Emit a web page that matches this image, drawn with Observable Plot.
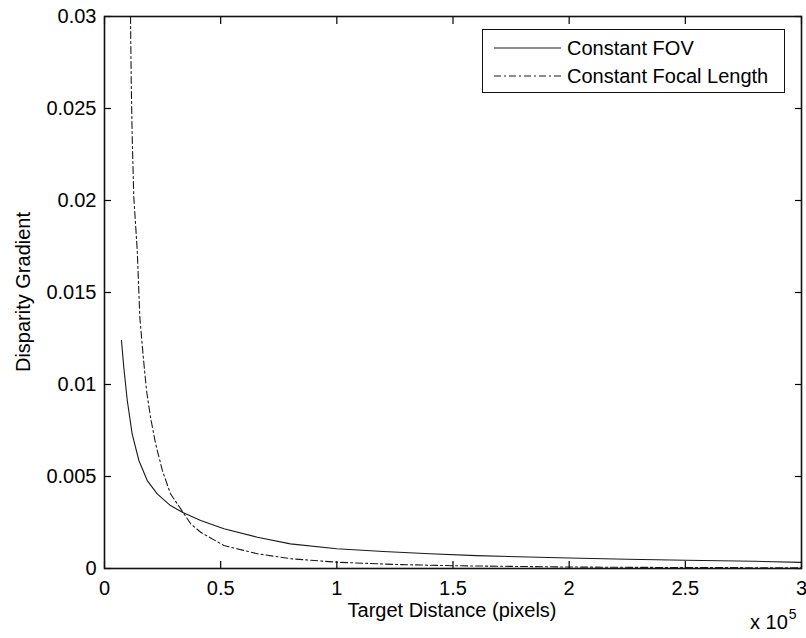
<!DOCTYPE html>
<html>
<head>
<meta charset="utf-8">
<script src="https://cdn.jsdelivr.net/npm/d3@7"></script>
<script src="https://cdn.jsdelivr.net/npm/@observablehq/plot@0.6"></script>
<style>
  html, body { margin: 0; padding: 0; background: #fff; }
  #wrap { position: relative; width: 806px; height: 638px; font-family: "Liberation Sans", Arial, sans-serif; color: #000; }
  #legend { position: absolute; left: 482px; top: 29px; width: 303px; height: 64px; border: 1.4px solid #111; background: #fff; box-sizing: border-box; }
  .row { position: absolute; left: 0; height: 24px; display: flex; align-items: center; white-space: nowrap; }
  .row span { font-size: 20px; color: #000; margin-left: 4px; }
  .lab { position: absolute; font-size: 20px; white-space: nowrap; line-height: 1; }
  #xlab { left: 452px; top: 610px; transform: translate(-50%, -50%); }
  #ylab { left: 23px; top: 292px; transform: translate(-50%, -50%) rotate(-90deg); }
  #exp { left: 750px; top: 612px; }
  #exp sup { font-size: 14px; line-height: 1; vertical-align: top; position: relative; top: -5px; margin-left: 1px; }
</style>
</head>
<body>
<div id="wrap"></div>
<script>
const seriesNames = ["Constant FOV", "Constant Focal Length"];
const xLabel = "Target Distance (pixels)";
const yLabel = "Disparity Gradient";

const xFOV = [7300, 8300, 9800, 11900, 14800, 18400, 22700, 28400, 33500, 41400, 51400, 65800, 80000, 100000, 120000, 140000, 160000, 200000, 225000, 250000, 280000, 300000];
const yFOV = [0.0124, 0.01094, 0.00913, 0.00732, 0.00587, 0.00478, 0.00406, 0.00342, 0.00306, 0.00261, 0.00216, 0.0017, 0.00134, 0.00107, 0.00092, 0.00080, 0.00070, 0.00057, 0.00050, 0.00045, 0.00039, 0.00033];

const xFL = [11200, 11500, 11900, 12600, 14100, 15200, 16700, 18100, 19800, 22000, 24900, 28400, 32800, 37100, 41400, 51400, 65800, 80200, 100300, 125000, 150000, 200000, 250000, 300000];
const yFL = [0.0300, 0.0265, 0.0236, 0.0202, 0.01728, 0.01366, 0.01148, 0.00967, 0.00822, 0.00678, 0.00533, 0.00406, 0.00324, 0.00243, 0.00197, 0.00125, 0.0008, 0.00053, 0.00034, 0.00022, 0.00015, 0.00008, 0.00005, 0.00004];

const xTicks = [0, 50000, 100000, 150000, 200000, 250000, 300000];
const xTickLabels = ["0", "0.5", "1", "1.5", "2", "2.5", "3"];
const yTicks = [0, 0.005, 0.01, 0.015, 0.02, 0.025, 0.03];
const yTickLabels = ["0", "0.005", "0.01", "0.015", "0.02", "0.025", "0.03"];

const fov = xFOV.map((x, i) => ({x, y: yFOV[i]}));
const fl = xFL.map((x, i) => ({x, y: yFL[i]}));

const dashFL = "7,3,2,3";

const chart = Plot.plot({
  width: 806,
  height: 638,
  marginLeft: 104,
  marginRight: 5,
  marginTop: 16,
  marginBottom: 70,
  style: {fontFamily: "'Liberation Sans', Arial, sans-serif", fontSize: "20px", color: "#000", background: "#fff"},
  x: {domain: [0, 300000]},
  y: {domain: [0, 0.03]},
  marks: [
    Plot.line(fov, {x: "x", y: "y", stroke: "#1a1a1a", strokeWidth: 1.1, clip: true}),
    Plot.line(fl, {x: "x", y: "y", stroke: "#1a1a1a", strokeWidth: 1.1, strokeDasharray: dashFL, clip: true}),
    Plot.axisX(xTicks, {anchor: "bottom", tickSize: 0, tickPadding: 12, tickFormat: (d, i) => xTickLabels[i], label: null, fontSize: 20}),
    Plot.axisX(xTicks, {anchor: "bottom", tickSize: -7, text: null, label: null, strokeWidth: 1.2}),
    Plot.axisX(xTicks, {anchor: "top", tickSize: -7, text: null, label: null, strokeWidth: 1.2}),
    Plot.axisY(yTicks, {anchor: "left", tickSize: 0, tickPadding: 8, tickFormat: (d, i) => yTickLabels[i], label: null, fontSize: 20}),
    Plot.axisY(yTicks, {anchor: "left", tickSize: -7, text: null, label: null, strokeWidth: 1.2}),
    Plot.axisY(yTicks, {anchor: "right", tickSize: -7, text: null, label: null, strokeWidth: 1.2}),
    Plot.frame({stroke: "#111", strokeWidth: 1.6})
  ]
});

const wrap = document.getElementById("wrap");
wrap.appendChild(chart);

const legend = document.createElement("div");
legend.id = "legend";
const rows = [
  {name: seriesNames[0], dash: null, top: 6},
  {name: seriesNames[1], dash: dashFL, top: 34}
];
for (const r of rows) {
  const row = document.createElement("div");
  row.className = "row";
  row.style.top = r.top + "px";
  row.innerHTML = `<svg width="80" height="20"><line x1="11" x2="78" y1="10" y2="10" stroke="#1a1a1a" stroke-width="1.1" ${r.dash ? `stroke-dasharray="${r.dash}"` : ""}/></svg><span>${r.name}</span>`;
  legend.appendChild(row);
}
wrap.appendChild(legend);

function addLabel(id, html) {
  const d = document.createElement("div");
  d.id = id;
  d.className = "lab";
  d.innerHTML = html;
  wrap.appendChild(d);
}
addLabel("xlab", xLabel);
addLabel("ylab", yLabel);
addLabel("exp", "x 10<sup>5</sup>");
</script>
</body>
</html>
